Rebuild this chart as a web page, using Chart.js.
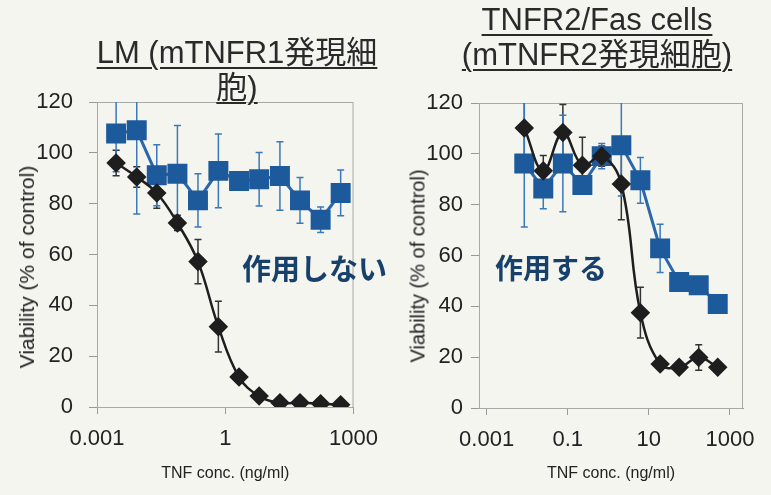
<!DOCTYPE html>
<html>
<head>
<meta charset="utf-8">
<script src="https://cdn.jsdelivr.net/npm/chart.js@4"></script>
<style>
  body { margin: 0; background: #f4f5ef; }
  #wrap { position: relative; width: 771px; height: 495px; overflow: hidden; }
  canvas { position: absolute; top: 0; }
  .title { position: absolute; font-family: "Liberation Sans", "Noto Sans CJK JP", sans-serif;
           font-size: 31px; line-height: 35px; color: #2a2a2a; text-align: center;
           text-decoration: underline; text-decoration-thickness: 1.5px; text-underline-offset: 4px; white-space: nowrap; }
  .note { position: absolute; font-family: "Noto Sans CJK JP", sans-serif; font-weight: bold;
          color: #17416b; white-space: nowrap; }
  .ytitle { position: absolute; font-family: "Liberation Sans", sans-serif; color: #222; white-space: nowrap;
            transform: translate(-50%, -50%) rotate(-90deg); }
</style>
</head>
<body>
<div id="wrap">
  <canvas id="chartLM" width="390" height="495" style="left:0"></canvas>
  <canvas id="chartR2" width="381" height="495" style="left:390px"></canvas>
  <div class="title" style="left:87px; top:35px; width:300px;">LM (mTNFR1発現細<br>胞)</div>
  <div class="title" style="left:447px; top:2px; width:300px;">TNFR2/Fas cells<br>(mTNFR2発現細胞)</div>
  <div class="note" style="left:242px; top:246px; font-size:29px;">作用しない</div>
  <div class="note" style="left:495px; top:247px; font-size:28px;">作用する</div>
  <div class="ytitle" style="left:27px; top:267px; font-size:21px;">Viability (% of control)</div>
  <div class="ytitle" style="left:418px; top:266px; font-size:20px;">Viability (% of control)</div>
</div>
<script>
// TNF concentrations (ng/ml)
const concLM = [0.0028, 0.0085, 0.025, 0.076, 0.23, 0.69, 2.1, 6.2, 19, 56, 170, 500];
const concR2 = [0.0085, 0.025, 0.076, 0.23, 0.69, 2.1, 6.2, 19, 56, 170, 500];

// LM cells: black diamonds / blue squares, mean and error
const lmBlack = [96, 90.5, 84.2, 72.4, 57.2, 31.6, 11.8, 4.3, 1.7, 1.7, 1.3, 0.9];
const lmBlackErr = [5, 4, 6, 3, 8.7, 10, 2, 1.5, 1, 1, 1, 1];
const lmBlue = [107.6, 108.9, 91.2, 91.8, 81.3, 92.9, 88.9, 89.6, 90.9, 81.3, 73.7, 84.2];
const lmBlueErr = [15, 33, 12, 19, 10.5, 14.5, 3.5, 10.5, 13.5, 9, 5, 9];

// TNFR2/Fas cells
const r2Black = [110.2, 93.3, 108.4, 95.5, 99.1, 88.1, 37.5, 17.3, 16.0, 19.9, 16.0];
const r2BlackErr = [12, 6, 11, 11, 4, 14, 10, 2, 1, 5, 1];
const r2Blue = [96.2, 86.4, 96.2, 87.7, 99.1, 103.4, 89.6, 62.8, 49.6, 48.3, 40.9];
const r2BlueErr = [25, 8, 19, 3, 5, 20, 9, 9.5, 2, 2, 2];

// axis ticks
const xTicksLM = [0.001, 1, 1000];
const xLabelsLM = ['0.001', '1', '1000'];
const xTicksR2 = [0.001, 0.1, 10, 1000];
const xLabelsR2 = ['0.001', '0.1', '10', '1000'];
const yTicks = [0, 20, 40, 60, 80, 100, 120];

const BLACK = '#1e1e1e';
const BLUE = '#1d5a9c';
const BLUE_LINE = '#2a67ab';

// error bars drawn under the markers
const errorBars = {
  id: 'errorBars',
  beforeDatasetsDraw(chart) {
    const { ctx, chartArea, scales: { y } } = chart;
    ctx.save();
    ctx.beginPath();
    ctx.rect(chartArea.left, chartArea.top, chartArea.width, chartArea.height);
    ctx.clip();
    chart.data.datasets.forEach((ds, di) => {
      const meta = chart.getDatasetMeta(di);
      ctx.strokeStyle = ds.errColor;
      ctx.lineWidth = 1.5;
      meta.data.forEach((pt, i) => {
        const v = ds.data[i].y, e = ds.errors[i];
        const top = y.getPixelForValue(v + e);
        const bot = y.getPixelForValue(v - e);
        ctx.beginPath();
        ctx.moveTo(pt.x, top); ctx.lineTo(pt.x, bot);
        ctx.moveTo(pt.x - 3.5, top); ctx.lineTo(pt.x + 3.5, top);
        ctx.moveTo(pt.x - 3.5, bot); ctx.lineTo(pt.x + 3.5, bot);
        ctx.stroke();
      });
    });
    ctx.restore();
  }
};

// plot area frame
const frame = {
  id: 'frame',
  beforeDatasetsDraw(chart) {
    const { ctx, chartArea: a } = chart;
    ctx.save();
    ctx.strokeStyle = '#a8a8a8';
    ctx.lineWidth = 1;
    ctx.strokeRect(a.left + 0.5, a.top + 0.5, a.width - 1, a.height);
    ctx.restore();
  }
};

function makeChart(id, conc, black, blackErr, blue, blueErr, cfg) {
  const pts = arr => arr.map((v, i) => ({ x: conc[i], y: v }));
  return new Chart(document.getElementById(id), {
    type: 'line',
    data: {
      datasets: [
        {
          data: pts(black), errors: blackErr, errColor: '#333',
          borderColor: BLACK, borderWidth: 2.5, tension: 0.4,
          pointStyle: 'rectRot', pointRadius: 8, pointBackgroundColor: BLACK, pointBorderColor: BLACK
        },
        {
          data: pts(blue), errors: blueErr, errColor: '#3a78bb',
          borderColor: BLUE_LINE, borderWidth: 3, tension: 0,
          pointStyle: 'rect', pointRadius: 12, pointBackgroundColor: BLUE, pointBorderColor: BLUE
        }
      ]
    },
    options: {
      responsive: false,
      animation: false,
      layout: { padding: { top: cfg.top, right: cfg.right, left: 0, bottom: 0 } },
      plugins: { legend: { display: false }, tooltip: { enabled: false } },
      scales: {
        x: {
          type: 'logarithmic',
          min: cfg.xmin, max: cfg.xmax,
          afterBuildTicks: s => { s.ticks = cfg.ticks.map(v => ({ value: v })); },
          afterFit: s => { s.height = cfg.xh; },
          ticks: {
            autoSkip: false, maxRotation: 0, padding: 12, color: '#222',
            font: { family: 'Liberation Sans', size: 22 },
            callback: (v, i) => cfg.labels[i]
          },
          grid: { drawOnChartArea: false, tickLength: 7, color: '#999' },
          border: { color: '#999' },
          title: {
            display: true, text: 'TNF conc. (ng/ml)', color: '#222',
            font: { family: 'Liberation Sans', size: 16 }, padding: { top: 0, bottom: 12 }
          }
        },
        y: {
          min: 0, max: 120,
          afterBuildTicks: s => { s.ticks = yTicks.map(v => ({ value: v })); },
          afterFit: s => { s.width = cfg.yw; },
          ticks: { padding: cfg.ypad, color: '#222', font: { family: 'Liberation Sans', size: 22 } },
          grid: { drawOnChartArea: false, tickLength: 8, color: '#999' },
          border: { color: '#999' }
        }
      }
    },
    plugins: [frame, errorBars]
  });
}

makeChart('chartLM', concLM, lmBlack, lmBlackErr, lmBlue, lmBlueErr, {
  top: 102, right: 12, xh: 88, yw: 97, ypad: 16,
  xmin: 0.001, xmax: 1000, ticks: xTicksLM, labels: xLabelsLM
});
makeChart('chartR2', concR2, r2Black, r2BlackErr, r2Blue, r2BlueErr, {
  top: 103, right: 28, xh: 87, yw: 89, ypad: 8,
  xmin: 0.00065, xmax: 2100, ticks: xTicksR2, labels: xLabelsR2
});
</script>
</body>
</html>
